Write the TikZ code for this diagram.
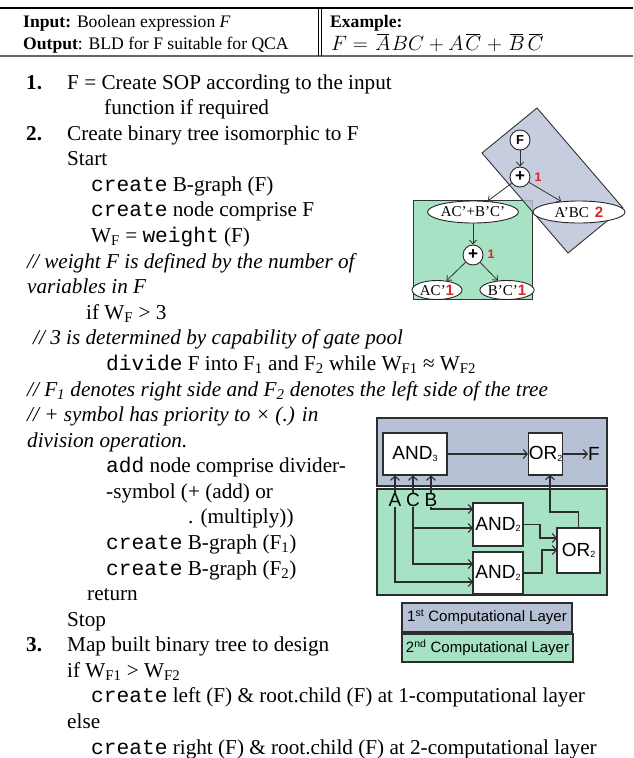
\documentclass[tikz,border=0pt]{standalone}
\usepackage{fontspec}
\setmainfont{Liberation Serif}
\setmonofont{Liberation Mono}
\setsansfont{Liberation Sans}
\usetikzlibrary{arrows.meta,shapes.geometric}
\definecolor{layerblue}{RGB}{183,193,214}
\definecolor{layergreen}{RGB}{167,226,196}
\definecolor{wirecol}{RGB}{45,45,45}
\definecolor{tagred}{RGB}{225,35,35}
\newcommand\lsub[1]{\textsubscript{#1}}
\newcommand\codeword[1]{{\ttfamily #1}}
\newcommand\gsub[1]{\raisebox{-1.5pt}{\fontsize{9}{9}\selectfont #1}}
\newcommand\negvar[1]{\mkern2.5mu\overline{\mkern-1mu #1\mkern-1.5mu}\mkern2.5mu}
\begin{document}
\begin{tikzpicture}[x=1pt,y=-1pt,
  txt/.style={anchor=base west,inner sep=0pt,font=\fontsize{21.2}{24}\selectfont},
  cmt/.style={txt,font=\fontsize{21.2}{24}\selectfont\itshape},
  hdr/.style={anchor=base west,inner sep=0pt,font=\fontsize{17.6}{22}\selectfont},
  treecirc/.style={circle,draw=black!85,fill=white,line width=0.9pt,minimum size=20pt,inner sep=0pt,font=\sffamily\bfseries\fontsize{13}{13}\selectfont},
  treeell/.style={ellipse,draw=black!85,fill=white,line width=0.9pt,inner sep=0pt,font=\fontsize{15}{15}\selectfont},
  redtag/.style={inner sep=0pt,text=tagred,font=\sffamily\bfseries\fontsize{12.5}{12.5}\selectfont},
  treearrow/.style={draw=black!80,line width=0.8pt,-{Straight Barb[length=4pt,width=7pt]}},
  gatebox/.style={rectangle,draw=wirecol,fill=white,line width=1.1pt,inner sep=0pt,font=\sffamily\fontsize{19}{19}\selectfont},
  pinlabel/.style={inner sep=0pt,font=\sffamily\fontsize{19}{19}\selectfont},
  wireline/.style={draw=wirecol,line width=1.1pt},
  wirearrow/.style={wireline,-{Straight Barb[length=4pt,width=9pt]}},
  legendbox/.style={rectangle,draw=wirecol,line width=1.1pt,inner sep=0pt,font=\sffamily\fontsize{15}{15}\selectfont}
]
\useasboundingbox (0,0) rectangle (633,758);
\fill[white] (0,0) rectangle (633,758);

% ---------- header ----------
\draw[line width=1.6pt] (0,8) -- (633,8);
\draw[line width=1.8pt,black!60] (0,56) -- (633,56);
\draw[line width=0.8pt] (318,8) -- (318,56);
\draw[line width=0.8pt] (321,8) -- (321,56);
\node[hdr] (hin) at (23,27) {\bfseries Input:\mdseries{} Boolean expression \textit{F}};
\node[hdr] (hout) at (23,49) {\bfseries Output\mdseries: BLD for F suitable for QCA};
\node[hdr] (hex) at (330,27) {\bfseries Example:};
\node[hdr,font=\fontsize{19.5}{22}\selectfont] (hform) at (331,50) {$F = \negvar{A}BC + A\negvar{C} + \negvar{B}\negvar{C}$};

% ---------- algorithm text (baseline = 89 + 25.58 i) ----------
\node[txt,font=\fontsize{21.2}{24}\selectfont\bfseries] (n1) at (26,89) {1.};
\node[txt] (l0) at (67,89) {F = Create SOP according to the input};
\node[txt] (l1) at (104,114.6) {function if required};
\node[txt,font=\fontsize{21.2}{24}\selectfont\bfseries] (n2) at (26,140.2) {2.};
\node[txt] (l2) at (67,140.2) {Create binary tree isomorphic to F};
\node[txt] (l3) at (67,165.7) {Start};
\node[txt] (l4) at (91,191.3) {\codeword{create} B-graph (F)};
\node[txt] (l5) at (91,216.9) {\codeword{create} node comprise F};
\node[txt] (l6) at (91,242.5) {W\lsub{F} = \codeword{weight} (F)};
\node[cmt] (l7) at (27,268.1) {// weight F is defined by the number of};
\node[cmt] (l8) at (27,293.6) {variables in F};
\node[txt] (l9) at (86,319.2) {if W\lsub{F} > 3};
\node[cmt] (l10) at (33,344.8) {// 3 is determined by capability of gate pool};
\node[txt] (l11) at (106,370.4) {\codeword{divide} F into F\lsub{1} and F\lsub{2} while W\lsub{F1} ≈ W\lsub{F2}};
\node[cmt] (l12) at (27,396) {// F\lsub{1} denotes right side and F\lsub{2} denotes the left side of the tree};
\node[cmt] (l13) at (27,421.5) {// + symbol has priority to × (.) in};
\node[cmt] (l14) at (27,447.1) {division operation.};
\node[txt] (l15) at (106,472.7) {\codeword{add} node comprise divider-};
\node[txt] (l16) at (106,498.3) {-symbol (+ (add) or};
\node[txt] (l17) at (188,523.9) {. (multiply))};
\node[txt] (l18) at (106,549.4) {\codeword{create} B-graph (F\lsub{1})};
\node[txt] (l19) at (106,575) {\codeword{create} B-graph (F\lsub{2})};
\node[txt] (l20) at (87,600.6) {return};
\node[txt] (l21) at (67,626.2) {Stop};
\node[txt,font=\fontsize{21.2}{24}\selectfont\bfseries] (n3) at (26,651.8) {3.};
\node[txt] (l22) at (67,651.8) {Map built binary tree to design};
\node[txt] (l23) at (67,677.3) {if W\lsub{F1} > W\lsub{F2}};
\node[txt] (l24) at (91,702.9) {\codeword{create} left (F) \& root.child (F) at 1-computational layer};
\node[txt] (l25) at (67,728.5) {else};
\node[txt] (l26) at (91,754) {\codeword{create} right (F) \& root.child (F) at 2-computational layer};

% ---------- tree diagram ----------
\draw[fill=layergreen,draw=black!80,line width=0.9pt] (413,200) rectangle (532,299);
\draw[fill=layerblue,fill opacity=0.8,draw=black!80,line width=0.9pt] (537,108) -- (623,208) -- (568,253) -- (482,153) -- cycle;
\node[treecirc] (tF) at (520,140) {F};
\node[treecirc,font=\sffamily\bfseries\fontsize{17}{17}\selectfont] (tp1) at (520,177) {+};
\node[redtag] (tg1) at (538,177) {1};
\node[treeell,minimum width=86pt,minimum height=22pt] (te1) at (473,212) {AC’+B’C’};
\node[treeell,minimum width=92pt,minimum height=22pt] (te2) at (579,212) {A’BC\hspace{6pt}\textcolor{tagred}{\sffamily\bfseries 2}};
\node[treecirc,font=\sffamily\bfseries\fontsize{17}{17}\selectfont] (tp2) at (473,255) {+};
\node[redtag] (tg2) at (491,254) {1};
\node[treeell,minimum width=50pt,minimum height=19pt] (te3) at (437,290) {AC’\textcolor{tagred}{\sffamily\bfseries 1}};
\node[treeell,minimum width=52pt,minimum height=19pt] (te4) at (507,290) {B’C’\textcolor{tagred}{\sffamily\bfseries 1}};
\draw[treearrow] (tF) -- (tp1);
\draw[treearrow] (tp1) -- (te1);
\draw[treearrow] (tp1) -- (te2);
\draw[treearrow] (te1) -- (tp2);
\draw[treearrow] (tp2) -- (te3);
\draw[treearrow] (tp2) -- (te4);

% ---------- circuit diagram ----------
\draw[fill=layerblue,draw=wirecol,line width=1.1pt] (377,418) rectangle (607,486);
\draw[fill=layergreen,draw=wirecol,line width=1.1pt] (377,489) rectangle (607,595);
\node[gatebox,minimum width=64pt,minimum height=42pt] (and3) at (415,454) {AND\gsub{3}};
\node[gatebox,minimum width=34pt,minimum height=42pt] (or2a) at (545.5,454) {OR\gsub{2}};
\node[pinlabel] (outF) at (594,454) {F};
\node[gatebox,minimum width=50pt,minimum height=43pt] (and2a) at (498,524.5) {AND\gsub{2}};
\node[gatebox,minimum width=50pt,minimum height=42pt] (and2b) at (498,573) {AND\gsub{2}};
\node[gatebox,minimum width=43pt,minimum height=45pt] (or2b) at (578.5,550.5) {OR\gsub{2}};
\node[pinlabel] (inA) at (395,500) {A};
\node[pinlabel] (inC) at (413,500) {C};
\node[pinlabel] (inB) at (431,500) {B};
\coordinate (pa1) at (473,509);
\coordinate (pa2) at (473,528);
\coordinate (pb1) at (473,564);
\coordinate (pb2) at (473,582);
\coordinate (po1) at (557,538);
\coordinate (po2) at (557,550);
\coordinate (popin) at (550,475);
\draw[wirearrow] (and3) -- (or2a);
\draw[wirearrow] (or2a.east) -- (outF.west);
\draw[wirearrow] (inA.north) -- (inA.north |- and3.south);
\draw[wirearrow] (inC.north) -- (inC.north |- and3.south);
\draw[wirearrow] (inB.north) -- (inB.north |- and3.south);
\draw[wirearrow] (inB.south) |- (pa1);
\draw[wirearrow] (inC.south) |- (pb1);
\draw[wirearrow] (inC.south |- pa2) -- (pa2);
\draw[wirearrow] (inA.south) |- (pb2);
\draw[wirearrow] (and2a.east) -- (540,524.5) -- (540,538) -- (po1);
\draw[wirearrow] (and2b.east) -- (542,573) -- (542,550) -- (po2);
\draw[wirearrow] (or2b.north) -- (578.5,512) -- (550,512) -- (popin);

% ---------- legend ----------
\node[legendbox,fill=layerblue,minimum width=170pt,minimum height=29pt] (leg1) at (487,617.5) {1\textsuperscript{st} Computational Layer};
\node[legendbox,fill=layergreen,minimum width=171pt,minimum height=28pt] (leg2) at (487.5,648) {2\textsuperscript{nd} Computational Layer};
\end{tikzpicture}
\end{document}
